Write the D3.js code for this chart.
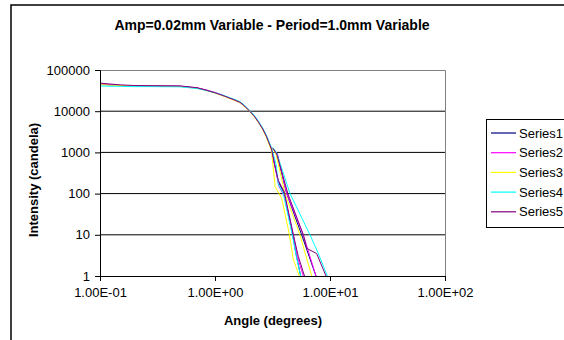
<!DOCTYPE html>
<html lang="en">
<head>
<meta charset="utf-8">
<script src="https://d3js.org/d3.v7.min.js"></script>
<style>
  body { margin: 0; background: #fff; }
  text { font-family: "Liberation Sans", Arial, sans-serif; fill: #000; }
</style>
</head>
<body>
<script>
// chart data: [angle (deg), intensity (candela)]
let series1 = [[0.1,45000],[0.15,42000],[0.2,41000],[0.3,40500],[0.5,40000],[0.7,36500],[0.85,32000],[1.0,28000],[1.15,24500],[1.3,21500],[1.5,18500],[1.65,16500],[1.8,13500],[2.0,10000],[2.2,7500],[2.4,5300],[2.6,3700],[2.8,2400],[3.1,1200],[3.3,520],[3.55,195],[3.93,112],[4.74,10],[5.06,3.5],[5.56,1],[5.9,0.4],[7.8,0.4],[7.55,1],[5.67,10],[4.2,100],[3.44,960],[3.15,1300]];
let series2 = [[0.1,46000],[0.15,42500],[0.2,41500],[0.3,41000],[0.5,40500],[0.7,37000],[0.85,32500],[1.0,28500],[1.15,24500],[1.3,21500],[1.5,18000],[1.65,16000],[1.8,13500],[2.0,10200],[2.2,7600],[2.4,5400],[2.6,3800],[2.8,2500],[3.1,1150],[3.3,500],[3.6,150],[4.06,80],[4.8,10],[5.2,3],[5.86,1],[6.2,0.4],[8.0,0.4],[7.55,1],[5.86,10],[4.2,100],[3.5,900],[3.2,1200]];
let series3 = [[0.1,44000],[0.15,42000],[0.2,41000],[0.3,40500],[0.5,40000],[0.7,36000],[0.85,31500],[1.0,27500],[1.15,24000],[1.3,21000],[1.5,18000],[1.65,16000],[1.8,13000],[2.0,9800],[2.2,7300],[2.4,5200],[2.6,3600],[2.8,2300],[3.1,1100],[3.33,148],[3.8,77],[4.43,10.2],[4.8,2.5],[5.41,1],[5.7,0.4],[7.3,0.4],[6.93,1],[5.48,10],[4.06,100],[3.4,900],[3.15,1250]];
let series4 = [[0.1,41000],[0.15,40000],[0.2,39500],[0.3,39500],[0.5,39000],[0.7,35500],[0.85,31500],[1.0,28000],[1.15,25000],[1.3,22000],[1.5,19000],[1.65,17000],[1.8,14000],[2.0,10500],[2.2,7900],[2.4,5600],[2.6,3900],[2.8,2600],[3.1,1300],[3.4,500],[3.55,170],[3.93,100],[4.7,10],[5.1,3],[5.56,1],[5.9,0.4],[10,0.4],[9.48,1],[7.92,3.5],[6.7,10],[4.49,100],[3.44,960],[3.2,1300]];
let series5 = [[0.1,48000],[0.15,43500],[0.2,42000],[0.3,41500],[0.5,41000],[0.7,37000],[0.85,32000],[1.0,28000],[1.15,24500],[1.3,21500],[1.5,18500],[1.65,16500],[1.8,13500],[2.0,10000],[2.2,7500],[2.4,5300],[2.6,3700],[2.8,2450],[3.1,1200],[3.3,500],[3.55,210],[4.0,110],[4.8,10],[5.3,3],[6.0,1],[6.3,0.4],[9.8,0.4],[9.23,1],[7.66,3.5],[6.27,4.7],[5.86,10],[4.3,100],[3.45,900],[3.2,1250]];

let seriesNames = ["Series1", "Series2", "Series3", "Series4", "Series5"];
let seriesColors = ["#000080", "#ff00ff", "#ffff00", "#00ffff", "#800080"];
let allSeries = [series1, series2, series3, series4, series5];

let yTicks = [1, 10, 100, 1000, 10000, 100000];
let xTicks = [0.1, 1, 10, 100];
let xTickLabels = ["1.00E-01", "1.00E+00", "1.00E+01", "1.00E+02"];

let w = 564, h = 340;
let plot = { left: 100, right: 445, top: 70, bottom: 276 };

let svg = d3.select("body").append("svg")
    .attr("width", w)
    .attr("height", h);

// outer chart border (runs off the picture to the right and bottom)
svg.append("rect")
    .attr("x", 11).attr("y", 5)
    .attr("width", 700).attr("height", 500)
    .attr("fill", "#fff")
    .attr("stroke", "#000")
    .attr("stroke-width", 1.5);

let x = d3.scaleLog().domain([0.1, 100]).range([plot.left, plot.right]);
let y = d3.scaleLog().domain([1, 100000]).range([plot.bottom, plot.top]);

// title
svg.append("text")
    .attr("x", 272).attr("y", 30)
    .attr("text-anchor", "middle")
    .style("font-size", "14px")
    .style("font-weight", "bold")
    .text("Amp=0.02mm Variable - Period=1.0mm Variable");

// grid lines
svg.selectAll(".grid")
    .data(yTicks.slice(1, -1))
    .join("line")
    .attr("x1", plot.left).attr("x2", plot.right)
    .attr("y1", d => y(d)).attr("y2", d => y(d))
    .attr("stroke", "#000")
    .attr("stroke-width", 1);

// top + right plot border
svg.append("path")
    .attr("d", `M${plot.left},${plot.top + 0.5}H${plot.right + 0.5}V${plot.bottom}`)
    .attr("fill", "none")
    .attr("stroke", "#808080")
    .attr("stroke-width", 1);

// clip lines to plot area
svg.append("clipPath").attr("id", "clip")
    .append("rect")
    .attr("x", plot.left).attr("y", plot.top)
    .attr("width", plot.right - plot.left).attr("height", plot.bottom - plot.top);

let line = d3.line()
    .x(d => x(d[0]))
    .y(d => y(d[1]));

svg.append("g")
    .attr("clip-path", "url(#clip)")
    .selectAll("path")
    .data(allSeries)
    .join("path")
    .attr("d", line)
    .attr("fill", "none")
    .attr("stroke", (d, i) => seriesColors[i])
    .attr("stroke-width", 1)
    .attr("stroke-linejoin", "round");

// axes
let yAxis = d3.axisLeft(y)
    .tickValues(yTicks)
    .tickFormat(d3.format("d"))
    .tickSize(5)
    .tickPadding(5);
let gy = svg.append("g")
    .attr("transform", `translate(${plot.left},0)`)
    .call(yAxis);

let xAxis = d3.axisBottom(x)
    .tickValues(xTicks)
    .tickFormat((d, i) => xTickLabels[i])
    .tickSize(5)
    .tickPadding(7);
let gx = svg.append("g")
    .attr("transform", `translate(0,${plot.bottom})`)
    .call(xAxis);

[gx, gy].forEach(g => {
    g.select(".domain").attr("stroke", "#000");
    g.selectAll(".tick line").attr("stroke", "#000");
    g.selectAll("text")
        .style("font-family", "'Liberation Sans', Arial, sans-serif")
        .style("font-size", "13px")
        .attr("fill", "#000");
});

// axis titles
svg.append("text")
    .attr("x", 273).attr("y", 325)
    .attr("text-anchor", "middle")
    .style("font-size", "13px")
    .style("font-weight", "bold")
    .text("Angle (degrees)");

svg.append("text")
    .attr("transform", "translate(38,180) rotate(-90)")
    .attr("text-anchor", "middle")
    .style("font-size", "13px")
    .style("font-weight", "bold")
    .text("Intensity (candela)");

// legend
let legend = svg.append("g");
legend.append("rect")
    .attr("x", 486.5).attr("y", 119.5)
    .attr("width", 120).attr("height", 108)
    .attr("fill", "#fff")
    .attr("stroke", "#000")
    .attr("stroke-width", 1);

let items = legend.selectAll(".item")
    .data(seriesNames)
    .join("g")
    .attr("transform", (d, i) => `translate(0,${133 + i * 19.7})`);
items.append("line")
    .attr("x1", 491).attr("x2", 516)
    .attr("stroke", (d, i) => seriesColors[i])
    .attr("stroke-width", 1.2);
items.append("text")
    .attr("x", 519).attr("y", 4.5)
    .style("font-size", "13px")
    .text(d => d);
</script>
</body>
</html>
